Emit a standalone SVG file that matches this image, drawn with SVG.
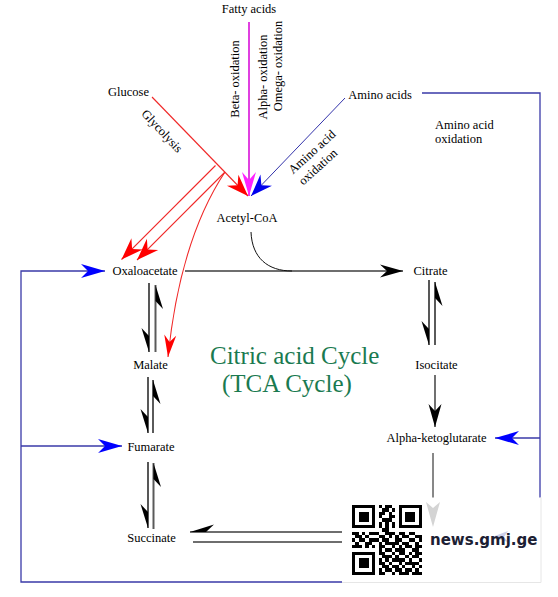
<svg xmlns="http://www.w3.org/2000/svg" width="558" height="597" viewBox="0 0 558 597">
<style>
text{font-family:"Liberation Serif","Times New Roman",serif;font-size:12.5px;fill:#000}
.title{font-size:25px;fill:#1a7a50}
.blue{stroke:#3a3aa8;stroke-width:1.3;fill:none}
.dn{stroke:#111;stroke-width:1.4;fill:none}
.up{stroke:#5a5a5a;stroke-width:2;fill:none}
.gr{stroke:#6e6e6e;stroke-width:2.2;fill:none}
.red{stroke:#f02828;stroke-width:1.1;fill:none}
</style>
<defs>
<marker id="red" markerUnits="userSpaceOnUse" orient="auto" refX="0" refY="0" markerWidth="30" markerHeight="30" style="overflow:visible"><path d="M0,0L-22,-8L-15,0L-22,8z" fill="#ff0000"/></marker>
<marker id="redS" markerUnits="userSpaceOnUse" orient="auto" refX="0" refY="0" markerWidth="30" markerHeight="30" style="overflow:visible"><path d="M0,0L-22,-6L-15,0L-22,6z" fill="#ff0000"/></marker>
<marker id="mag" markerUnits="userSpaceOnUse" orient="auto" refX="0" refY="0" markerWidth="30" markerHeight="30" style="overflow:visible"><path d="M0,0L-24,-7L-16,0L-24,7z" fill="#ff22ff"/></marker>
<marker id="blueA" markerUnits="userSpaceOnUse" orient="auto" refX="0" refY="0" markerWidth="30" markerHeight="30" style="overflow:visible"><path d="M0,0L-22,-8L-15,0L-22,8z" fill="#0000ee"/></marker>
<marker id="blue" markerUnits="userSpaceOnUse" orient="auto" refX="0" refY="0" markerWidth="30" markerHeight="30" style="overflow:visible"><path d="M0,0L-24,-7L-17,0L-24,7z" fill="#0000ff"/></marker>
<marker id="black" markerUnits="userSpaceOnUse" orient="auto" refX="0" refY="0" markerWidth="30" markerHeight="30" style="overflow:visible"><path d="M0,0L-23,-6.5L-16,0L-23,6.5z" fill="#000"/></marker>
<marker id="half" markerUnits="userSpaceOnUse" orient="auto" refX="0" refY="0" markerWidth="30" markerHeight="30" style="overflow:visible"><path d="M0,0L-24,7.5L-16,0z" fill="#000"/></marker>
</defs>
<rect width="558" height="597" fill="#fff"/>

<g id="connectors">
  <line class="red" x1="152" y1="97" x2="248" y2="196" marker-end="url(#red)"/>
  <line x1="249" y1="22" x2="249" y2="196" stroke="#e040e0" stroke-width="2" marker-end="url(#mag)"/>
  <line x1="345" y1="98" x2="251" y2="196" stroke="#3333aa" stroke-width="1" marker-end="url(#blueA)"/>
  <line class="red" x1="215.5" y1="165.5" x2="121.5" y2="259.5" marker-end="url(#red)"/>
  <line class="red" x1="225" y1="172" x2="137" y2="260" marker-end="url(#red)"/>
  <path class="red" d="M225,172Q180,240 168,357" marker-end="url(#redS)"/>
  <line class="gr" x1="185" y1="271" x2="403" y2="271" marker-end="url(#black)"/>
  <path d="M251,232C252,258 268,271 292,271" stroke="#111" stroke-width="1" fill="none"/>
  <line class="dn" x1="149" y1="283" x2="149" y2="352" marker-end="url(#half)"/>
  <line class="up" x1="155.5" y1="352" x2="155.5" y2="285" marker-end="url(#half)"/>
  <line class="dn" x1="148" y1="377" x2="148" y2="433" marker-end="url(#half)"/>
  <line class="up" x1="153" y1="433" x2="153" y2="380" marker-end="url(#half)"/>
  <line class="dn" x1="148" y1="462" x2="148" y2="528" marker-end="url(#half)"/>
  <line class="up" x1="153.5" y1="529" x2="153.5" y2="463" marker-end="url(#half)"/>
  <line class="dn" x1="429" y1="280" x2="429" y2="345" marker-end="url(#half)"/>
  <line class="up" x1="435" y1="345" x2="435" y2="282" marker-end="url(#half)"/>
  <line x1="435" y1="375" x2="435" y2="427" stroke="#111" stroke-width="1.2" marker-end="url(#black)"/>
  <line x1="433" y1="453" x2="433" y2="498" stroke="#111" stroke-width="1"/>
  <line class="gr" x1="342" y1="532" x2="190" y2="532" marker-end="url(#half)"/>
  <line class="gr" x1="193" y1="542" x2="342" y2="542"/>
  <polyline class="blue" points="422,93 540,93 540,498"/>
  <line class="blue" x1="540" y1="438" x2="495" y2="438" marker-end="url(#blue)"/>
  <polyline class="blue" points="342,582 21,582 21,271 105,271" marker-end="url(#blue)"/>
  <line class="blue" x1="21" y1="446" x2="122" y2="446" marker-end="url(#blue)"/>
</g>

<g id="fatty-acids"><text x="249" y="13" text-anchor="middle">Fatty acids</text></g>
<g id="glucose"><text x="128.5" y="96" text-anchor="middle">Glucose</text></g>
<g id="amino-acids"><text x="380" y="99" text-anchor="middle">Amino acids</text></g>
<g id="acetyl-coa"><text x="247" y="222" text-anchor="middle">Acetyl-CoA</text></g>
<g id="oxaloacetate"><text x="145" y="275" text-anchor="middle">Oxaloacetate</text></g>
<g id="citrate"><text x="430.5" y="275" text-anchor="middle">Citrate</text></g>
<g id="malate"><text x="150.5" y="369" text-anchor="middle">Malate</text></g>
<g id="isocitate"><text x="436.5" y="369" text-anchor="middle">Isocitate</text></g>
<g id="alpha-ketoglutarate"><text x="436.5" y="442" text-anchor="middle">Alpha-ketoglutarate</text></g>
<g id="fumarate"><text x="151" y="451" text-anchor="middle">Fumarate</text></g>
<g id="succinate"><text x="151.5" y="542" text-anchor="middle">Succinate</text></g>

<g id="labels">
  <text transform="translate(162,131) rotate(47)" y="4" text-anchor="middle">Glycolysis</text>
  <text transform="translate(235,79) rotate(-90)" y="4" text-anchor="middle">Beta- oxidation</text>
  <text transform="translate(263,77) rotate(-90)" y="4" text-anchor="middle">Alpha- oxidation</text>
  <text transform="translate(277.5,66) rotate(-90)" y="4" text-anchor="middle">Omega- oxidation</text>
  <text transform="translate(312,152) rotate(-42)" y="4" text-anchor="middle">Amino acid</text>
  <text transform="translate(318,167) rotate(-42)" y="4" text-anchor="middle">oxidation</text>
  <text x="435" y="129">Amino acid</text>
  <text x="435" y="143">oxidation</text>
  <text class="title" x="210" y="364">Citric acid Cycle</text>
  <text class="title" x="222" y="392">(TCA Cycle)</text>
</g>

<g id="watermark">
  <rect x="342" y="497.5" width="199" height="85" fill="#fff"/>
  <path d="M541,497.5V582.5H342" fill="none" stroke="#e6e6e6" stroke-width="1"/>
  <path d="M433,527L426,502L433,508L440,502z" fill="#d4d4d4"/>
  <path d="M492,537L508,531L504,537L508,542z" fill="#cdd0ea"/>
  <path transform="translate(352,505) scale(3.333)" shape-rendering="crispEdges" fill="#000" d="M0,0h7v1h-7zM8,0h1v1h-1zM10,0h2v1h-2zM14,0h7v1h-7zM0,1h1v1h-1zM6,1h1v1h-1zM9,1h2v1h-2zM12,1h1v1h-1zM14,1h1v1h-1zM20,1h1v1h-1zM0,2h1v1h-1zM2,2h3v1h-3zM6,2h1v1h-1zM8,2h2v1h-2zM11,2h1v1h-1zM14,2h1v1h-1zM16,2h3v1h-3zM20,2h1v1h-1zM0,3h1v1h-1zM2,3h3v1h-3zM6,3h1v1h-1zM8,3h1v1h-1zM11,3h2v1h-2zM14,3h1v1h-1zM16,3h3v1h-3zM20,3h1v1h-1zM0,4h1v1h-1zM2,4h3v1h-3zM6,4h1v1h-1zM9,4h3v1h-3zM14,4h1v1h-1zM16,4h3v1h-3zM20,4h1v1h-1zM0,5h1v1h-1zM6,5h1v1h-1zM8,5h1v1h-1zM10,5h1v1h-1zM12,5h1v1h-1zM14,5h1v1h-1zM20,5h1v1h-1zM0,6h7v1h-7zM8,6h1v1h-1zM10,6h1v1h-1zM12,6h1v1h-1zM14,6h7v1h-7zM9,7h2v1h-2zM0,8h2v1h-2zM3,8h1v1h-1zM5,8h3v1h-3zM10,8h3v1h-3zM14,8h2v1h-2zM17,8h2v1h-2zM1,9h2v1h-2zM4,9h1v1h-1zM8,9h2v1h-2zM11,9h1v1h-1zM13,9h1v1h-1zM15,9h2v1h-2zM19,9h2v1h-2zM0,10h1v1h-1zM2,10h2v1h-2zM5,10h3v1h-3zM9,10h2v1h-2zM13,10h2v1h-2zM17,10h2v1h-2zM20,10h1v1h-1zM1,11h1v1h-1zM4,11h2v1h-2zM8,11h1v1h-1zM10,11h4v1h-4zM15,11h2v1h-2zM19,11h1v1h-1zM0,12h3v1h-3zM4,12h1v1h-1zM6,12h1v1h-1zM8,12h2v1h-2zM12,12h1v1h-1zM14,12h1v1h-1zM16,12h2v1h-2zM19,12h2v1h-2zM8,13h1v1h-1zM10,13h2v1h-2zM13,13h3v1h-3zM18,13h2v1h-2zM0,14h7v1h-7zM8,14h2v1h-2zM12,14h1v1h-1zM14,14h2v1h-2zM17,14h1v1h-1zM19,14h2v1h-2zM0,15h1v1h-1zM6,15h1v1h-1zM9,15h3v1h-3zM13,15h1v1h-1zM16,15h1v1h-1zM18,15h2v1h-2zM0,16h1v1h-1zM2,16h3v1h-3zM6,16h1v1h-1zM8,16h1v1h-1zM10,16h1v1h-1zM12,16h4v1h-4zM17,16h1v1h-1zM20,16h1v1h-1zM0,17h1v1h-1zM2,17h3v1h-3zM6,17h1v1h-1zM8,17h2v1h-2zM11,17h1v1h-1zM14,17h1v1h-1zM16,17h4v1h-4zM0,18h1v1h-1zM2,18h3v1h-3zM6,18h1v1h-1zM9,18h2v1h-2zM12,18h2v1h-2zM15,18h1v1h-1zM18,18h1v1h-1zM20,18h1v1h-1zM0,19h1v1h-1zM6,19h1v1h-1zM8,19h1v1h-1zM10,19h2v1h-2zM13,19h2v1h-2zM16,19h2v1h-2zM19,19h1v1h-1zM0,20h7v1h-7zM8,20h2v1h-2zM12,20h1v1h-1zM14,20h3v1h-3zM18,20h3v1h-3z"/>
  <text x="430" y="545" style="font-family:'DejaVu Sans',Verdana,sans-serif;font-weight:bold;font-size:15px;fill:#1c2033">news.gmj.ge</text>
</g>
</svg>
